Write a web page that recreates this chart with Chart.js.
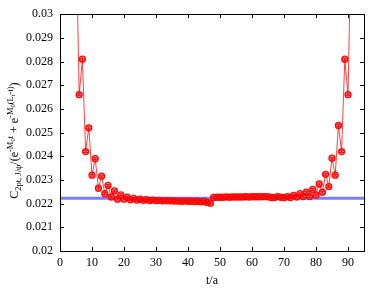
<!DOCTYPE html>
<html>
<head>
<meta charset="utf-8">
<script src="https://cdn.jsdelivr.net/npm/chart.js@4.4.1/dist/chart.umd.min.js"></script>
<style>
html,body{margin:0;padding:0;background:#fff;}
#wrap{width:374px;height:290px;position:relative;}
</style>
</head>
<body>
<div id="wrap"><canvas id="c" width="374" height="290"></canvas></div>
<script>
// ---- data ----
const tValues = [5,6,7,8,9,10,11,12,13,14,15,16,17,18,19,20,21,22,23,24,25,26,27,28,29,30,
  31,32,33,34,35,36,37,38,39,40,41,42,43,44,45,46,47,48,49,50,51,52,53,54,55,56,57,58,59,60,
  61,62,63,64,65,66,67,68,69,70,71,72,73,74,75,76,77,78,79,80,81,82,83,84,85,86,87,88,89,90,91];
const ratioValues = [0.0335,0.0266,0.0281,0.0242,0.0252,0.0232,0.0239,0.02265,0.02316,0.02242,0.02277,
  0.02228,0.02254,0.02219,0.02237,0.02219,0.02227,0.02216,0.02222,0.02215,0.02219,0.02214,0.02217,
  0.02213,0.02215,0.02213,0.02214,0.02212,0.02213,0.02212,0.02212,0.02211,0.02211,0.0221,0.02211,
  0.0221,0.0221,0.02209,0.0221,0.02208,0.02209,0.02205,0.02202,
  0.02226,0.02227,0.02227,0.02227,0.02228,0.02227,0.02228,0.02228,0.02228,0.02228,0.02229,0.02228,
  0.02229,0.02229,0.02229,0.02229,0.0223,0.02229,0.02226,0.02226,0.0223,0.02227,0.02225,0.0223,
  0.02226,0.02235,0.02228,0.02242,0.0223,0.02248,0.0223,0.0226,0.02237,0.02283,0.02248,0.02324,
  0.02272,0.02392,0.0232,0.0253,0.0242,0.0281,0.0266,0.0335];
const ratioErrors = tValues.map(() => 0.00004);
const fitValue = 0.02223;
const fitRange = [0, 95];
const xTicks = [0,10,20,30,40,50,60,70,80,90];
const yTicks = [0.02,0.021,0.022,0.023,0.024,0.025,0.026,0.027,0.028,0.029,0.03];

const FONT = '"Liberation Serif", "DejaVu Serif", serif';

const framePlugin = {
  id: 'frame',
  afterDatasetsDraw(chart) {
    const ctx = chart.ctx;
    const a = chart.chartArea;
    const xs = chart.scales.x, ys = chart.scales.y;
    ctx.save();
    ctx.beginPath();
    ctx.rect(a.left, a.top, a.right - a.left, a.bottom - a.top);
    ctx.clip();
    ctx.strokeStyle = 'rgba(255,0,0,0.9)';
    ctx.lineWidth = 1;
    tValues.forEach((t, i) => {
      const px = xs.getPixelForValue(t);
      const y1 = ys.getPixelForValue(ratioValues[i] + ratioErrors[i]);
      const y2 = ys.getPixelForValue(ratioValues[i] - ratioErrors[i]);
      ctx.beginPath();
      ctx.moveTo(px, y1); ctx.lineTo(px, y2);
      ctx.moveTo(px - 3, y1); ctx.lineTo(px + 3, y1);
      ctx.moveTo(px - 3, y2); ctx.lineTo(px + 3, y2);
      ctx.stroke();
    });
    ctx.restore();
  },
  afterDraw(chart) {
    const ctx = chart.ctx;
    const a = chart.chartArea;
    const xs = chart.scales.x, ys = chart.scales.y;
    ctx.save();
    ctx.strokeStyle = '#000';
    ctx.lineWidth = 1;
    ctx.strokeRect(Math.round(a.left) + 0.5, Math.round(a.top) + 0.5,
                   Math.round(a.right - a.left), Math.round(a.bottom - a.top));
    const L = 4;
    ctx.beginPath();
    xTicks.forEach(v => {
      const p = Math.round(xs.getPixelForValue(v)) + 0.5;
      ctx.moveTo(p, a.bottom); ctx.lineTo(p, a.bottom - L);
      ctx.moveTo(p, a.top); ctx.lineTo(p, a.top + L);
    });
    yTicks.forEach(v => {
      const p = Math.round(ys.getPixelForValue(v)) + 0.5;
      ctx.moveTo(a.left, p); ctx.lineTo(a.left + L, p);
      ctx.moveTo(a.right, p); ctx.lineTo(a.right - L, p);
    });
    ctx.stroke();

    ctx.fillStyle = '#000';
    ctx.font = '12px ' + FONT;
    ctx.textAlign = 'center';
    ctx.textBaseline = 'middle';
    ctx.fillText('t/a', (a.left + a.right) / 2, 281);

    const segs = [
      ['C', 12, 0], ['2pt, J/\u03C8', 8.5, 3], ['/(e', 12, 0],
      ['-M', 8.5, -5], ['0', 6.5, -3], ['t', 8.5, -5],
      [' + e', 12, 0], ['-M', 8.5, -5], ['0', 6.5, -3], ['(L', 8.5, -5],
      ['t', 6.5, -3], ['-t)', 8.5, -5], [')', 12, 0]
    ];
    let total = 0;
    segs.forEach(s => { ctx.font = s[1] + 'px ' + FONT; total += ctx.measureText(s[0]).width; });
    ctx.translate(14, (a.top + a.bottom) / 2 + 8);
    ctx.rotate(-Math.PI / 2);
    ctx.textAlign = 'left';
    ctx.textBaseline = 'alphabetic';
    let x = -total / 2;
    segs.forEach(s => {
      ctx.font = s[1] + 'px ' + FONT;
      ctx.fillText(s[0], x, 4 + s[2]);
      x += ctx.measureText(s[0]).width;
    });
    ctx.restore();
  }
};

new Chart(document.getElementById('c'), {
  type: 'scatter',
  data: {
    datasets: [
      {
        label: 'fit',
        data: fitRange.map(t => ({x: t, y: fitValue})),
        showLine: true,
        borderColor: 'rgba(110,110,255,0.9)',
        borderWidth: 3,
        pointRadius: 0,
        order: 2
      },
      {
        label: 'ratio',
        data: tValues.map((t, i) => ({x: t, y: ratioValues[i]})),
        showLine: true,
        borderColor: 'rgba(255,0,0,0.75)',
        borderWidth: 1,
        pointRadius: 3,
        pointBorderWidth: 1.3,
        pointBorderColor: 'rgba(255,0,0,0.95)',
        pointBackgroundColor: 'rgba(255,60,60,0.5)',
        order: 1
      }
    ]
  },
  options: {
    responsive: false,
    animation: false,
    events: [],
    layout: { padding: { top: 8, right: 10, left: 0, bottom: 0 } },
    plugins: { legend: { display: false }, tooltip: { enabled: false } },
    scales: {
      x: {
        type: 'linear', min: 0, max: 95,
        grid: { display: false, drawTicks: false },
        border: { display: false },
        afterBuildTicks: s => { s.ticks = xTicks.map(v => ({value: v})); },
        afterFit: s => { s.height = 39; },
        ticks: { color: '#000', font: { family: FONT, size: 12 }, padding: 5, maxRotation: 0 }
      },
      y: {
        type: 'linear', min: 0.02, max: 0.03,
        grid: { display: false, drawTicks: false },
        border: { display: false },
        afterBuildTicks: s => { s.ticks = yTicks.map(v => ({value: v})); },
        afterFit: s => { s.width = 60; },
        ticks: { color: '#000', font: { family: FONT, size: 12 }, padding: 7,
          callback: v => String(parseFloat(Number(v).toFixed(3))) }
      }
    }
  },
  plugins: [framePlugin]
});
</script>
</body>
</html>
